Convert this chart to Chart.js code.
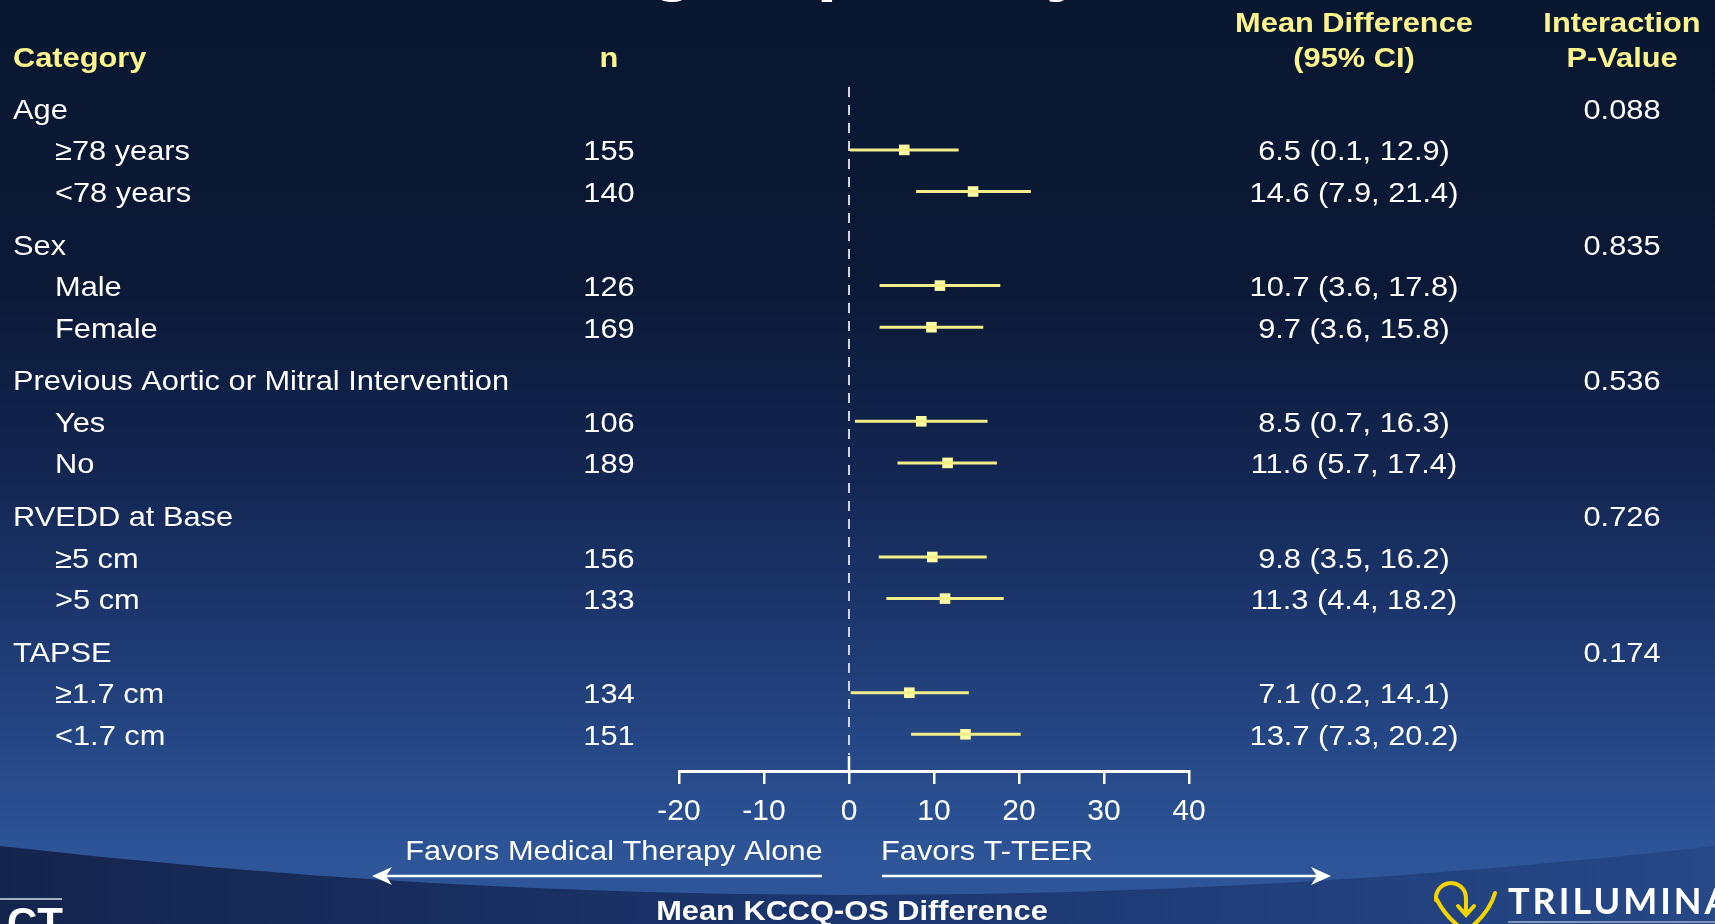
<!DOCTYPE html>
<html>
<head>
<meta charset="utf-8">
<script src="https://cdn.jsdelivr.net/npm/chart.js@4.4.1/dist/chart.umd.min.js"></script>
<style>
  html, body { margin: 0; padding: 0; background: #0a1731; overflow: hidden; }
  canvas { display: block; }
</style>
</head>
<body>
<canvas id="forest" width="1715" height="924"></canvas>
<script>
// ---- data ----
const groupNames = ['Age', 'Sex', 'Previous Aortic or Mitral Intervention', 'RVEDD at Base', 'TAPSE'];
const groupPValues = ['0.088', '0.835', '0.536', '0.726', '0.174'];
const subgroupLabels = ['≥78 years', '<78 years', 'Male', 'Female', 'Yes', 'No', '≥5 cm', '>5 cm', '≥1.7 cm', '<1.7 cm'];
const subgroupGroup = [0, 0, 1, 1, 2, 2, 3, 3, 4, 4];
const subgroupN = [155, 140, 126, 169, 106, 189, 156, 133, 134, 151];
const meanDiff = [6.5, 14.6, 10.7, 9.7, 8.5, 11.6, 9.8, 11.3, 7.1, 13.7];
const ciLower = [0.1, 7.9, 3.6, 3.6, 0.7, 5.7, 3.5, 4.4, 0.2, 7.3];
const ciUpper = [12.9, 21.4, 17.8, 15.8, 16.3, 17.4, 16.2, 18.2, 14.1, 20.2];
const xTicks = [-20, -10, 0, 10, 20, 30, 40];

// ---- row layout (in row units on the y scale) ----
const GROUP_STEP = 3.262;
const headerPos = g => g * GROUP_STEP;
const rowPos = i => {
  const g = subgroupGroup[i];
  const j = subgroupGroup.slice(0, i).filter(v => v === g).length;
  return headerPos(g) + 1 + j;
};

const FONT = '"Liberation Sans", Arial, Helvetica, sans-serif';
const SX = 1.08;              // slight horizontal widening of the slide text
const WHITE = '#ffffff';
const YELLOW = '#fbf48c';
const CI_COLOR = '#f2ef8a';
const MARK_COLOR = '#fbf9a2';

function text(ctx, s, x, y, align, font, color) {
  ctx.save();
  ctx.font = font;
  ctx.fillStyle = color;
  ctx.textAlign = align;
  ctx.textBaseline = 'alphabetic';
  ctx.translate(x, y);
  ctx.scale(SX, 1);
  ctx.fillText(s, 0, 0);
  ctx.restore();
}

function arrow(ctx, x0, x1, y) {
  // shaft from x0 to tip x1
  const dir = Math.sign(x1 - x0);
  ctx.save();
  ctx.strokeStyle = WHITE;
  ctx.fillStyle = WHITE;
  ctx.lineWidth = 2.5;
  ctx.beginPath();
  ctx.moveTo(x0, y);
  ctx.lineTo(x1 - dir * 10, y);
  ctx.stroke();
  ctx.beginPath();
  ctx.moveTo(x1, y);
  ctx.lineTo(x1 - dir * 20, y - 9);
  ctx.lineTo(x1 - dir * 14, y);
  ctx.lineTo(x1 - dir * 20, y + 9);
  ctx.closePath();
  ctx.fill();
  ctx.restore();
}

const slideDecor = {
  id: 'slideDecor',
  beforeDraw(chart) {
    const ctx = chart.ctx;
    const W = chart.width, H = chart.height;
    ctx.save();
    const bg = ctx.createLinearGradient(0, 0, 0, H);
    bg.addColorStop(0.00, '#0a1731');
    bg.addColorStop(0.30, '#0b1936');
    bg.addColorStop(0.50, '#132550');
    bg.addColorStop(0.68, '#1d3870');
    bg.addColorStop(0.83, '#274a8a');
    bg.addColorStop(0.93, '#2d5598');
    bg.addColorStop(1.00, '#2d5598');
    ctx.fillStyle = bg;
    ctx.fillRect(0, 0, W, H);
    // darker curved footer band
    const band = ctx.createLinearGradient(0, 0, W, 0);
    band.addColorStop(0, '#14254d');
    band.addColorStop(0.5, '#1c3670');
    band.addColorStop(1, '#264887');
    ctx.fillStyle = band;
    ctx.beginPath();
    ctx.moveTo(0, 846);
    ctx.quadraticCurveTo(857, 944, W, 846);
    ctx.lineTo(W, H);
    ctx.lineTo(0, H);
    ctx.closePath();
    ctx.fill();
    ctx.restore();
  },
  beforeDatasetsDraw(chart) {
    const ctx = chart.ctx;
    const x0 = chart.scales.x.getPixelForValue(0);
    const { top, bottom } = chart.chartArea;
    ctx.save();
    ctx.strokeStyle = '#cfd4de';
    ctx.lineWidth = 2;
    ctx.setLineDash([10, 8]);
    ctx.beginPath();
    ctx.moveTo(x0, top);
    ctx.lineTo(x0, bottom - 16);
    ctx.stroke();
    ctx.setLineDash([]);
    ctx.strokeStyle = WHITE;
    ctx.lineWidth = 2.5;
    ctx.beginPath();
    ctx.moveTo(x0, bottom - 15);
    ctx.lineTo(x0, bottom);
    ctx.stroke();
    ctx.restore();
  },
  afterDraw(chart) {
    const ctx = chart.ctx;
    const ys = chart.scales.y;
    const reg = '28.5px ' + FONT;
    const bold = 'bold 28.5px ' + FONT;
    const COL_LABEL = 13, COL_SUB = 55, COL_N = 609, COL_CI = 1354, COL_P = 1622;
    const BASE = 10.5;

    // partially visible slide title
    ctx.save();
    ctx.font = 'bold 75px ' + FONT;
    ctx.fillStyle = WHITE;
    ctx.textAlign = 'center';
    ctx.fillText('Subgroup Analysis', 850, -13);
    ctx.restore();

    // column headers
    text(ctx, 'Mean Difference', COL_CI, 32, 'center', bold, YELLOW);
    text(ctx, 'Interaction', COL_P, 32, 'center', bold, YELLOW);
    text(ctx, 'Category', COL_LABEL, 67, 'left', bold, YELLOW);
    text(ctx, 'n', COL_N, 67, 'center', bold, YELLOW);
    text(ctx, '(95% CI)', COL_CI, 67, 'center', bold, YELLOW);
    text(ctx, 'P-Value', COL_P, 67, 'center', bold, YELLOW);

    // group header rows
    groupNames.forEach((name, g) => {
      const y = ys.getPixelForValue(headerPos(g)) + BASE;
      text(ctx, name, COL_LABEL, y, 'left', reg, WHITE);
      text(ctx, groupPValues[g], COL_P, y, 'center', reg, WHITE);
    });

    // subgroup rows
    subgroupLabels.forEach((lab, i) => {
      const y = ys.getPixelForValue(rowPos(i)) + BASE;
      text(ctx, lab, COL_SUB, y, 'left', reg, WHITE);
      text(ctx, String(subgroupN[i]), COL_N, y, 'center', reg, WHITE);
      const ci = meanDiff[i].toFixed(1) + ' (' + ciLower[i].toFixed(1) + ', ' + ciUpper[i].toFixed(1) + ')';
      text(ctx, ci, COL_CI, y, 'center', reg, WHITE);
    });

    // direction labels and arrows
    text(ctx, 'Favors Medical Therapy Alone', 614, 860, 'center', reg, WHITE);
    text(ctx, 'Favors T-TEER', 987, 860, 'center', reg, WHITE);
    arrow(ctx, 822, 372, 876);
    arrow(ctx, 882, 1331, 876);
    text(ctx, 'Mean KCCQ-OS Difference', 852, 920, 'center', bold, WHITE);

    // footer logos
    ctx.save();
    ctx.strokeStyle = '#a3aec4';
    ctx.lineWidth = 2;
    ctx.beginPath();
    ctx.moveTo(0, 899);
    ctx.lineTo(62, 899);
    ctx.stroke();
    ctx.font = 'bold 42px ' + FONT;
    ctx.fillStyle = WHITE;
    ctx.textAlign = 'right';
    ctx.fillText('CT', 63, 937);

    ctx.strokeStyle = '#f4d400';
    ctx.lineWidth = 4;
    ctx.lineCap = 'round';
    ctx.beginPath();
    ctx.moveTo(1436, 898);
    ctx.quadraticCurveTo(1446, 918, 1464, 930);
    ctx.stroke();
    ctx.beginPath();
    ctx.moveTo(1468, 930);
    ctx.quadraticCurveTo(1490, 912, 1495, 893);
    ctx.stroke();
    ctx.beginPath();
    ctx.arc(1451, 898, 15, Math.PI * 0.95, Math.PI * 2.05);
    ctx.stroke();
    ctx.beginPath();
    ctx.moveTo(1466, 900);
    ctx.lineTo(1466, 914);
    ctx.stroke();
    ctx.beginPath();
    ctx.moveTo(1458, 906);
    ctx.lineTo(1466, 915);
    ctx.lineTo(1474, 906);
    ctx.stroke();

    ctx.font = 'bold 36px Lato, "Open Sans", sans-serif';
    ctx.letterSpacing = '3px';
    ctx.fillStyle = WHITE;
    ctx.textAlign = 'left';
    ctx.fillText('TRILUMINATE', 1508, 914);
    ctx.strokeStyle = '#7f93bb';
    ctx.lineWidth = 2;
    ctx.lineCap = 'butt';
    ctx.beginPath();
    ctx.moveTo(1508, 922);
    ctx.lineTo(1715, 922);
    ctx.stroke();
    ctx.restore();
  }
};

// ---- datasets ----
const ciDatasets = meanDiff.map((m, i) => ({
  label: subgroupLabels[i] + ' CI',
  data: [{ x: ciLower[i], y: rowPos(i) }, { x: ciUpper[i], y: rowPos(i) }],
  showLine: true,
  borderColor: CI_COLOR,
  borderWidth: 3,
  pointRadius: 0,
  pointHoverRadius: 0
}));

const markerDataset = {
  label: 'Mean difference',
  data: meanDiff.map((m, i) => ({ x: m, y: rowPos(i) })),
  pointStyle: 'rect',
  pointRadius: 7.5,
  backgroundColor: MARK_COLOR,
  borderColor: MARK_COLOR,
  borderWidth: 0,
  showLine: false
};

new Chart(document.getElementById('forest'), {
  type: 'scatter',
  data: { datasets: [...ciDatasets, markerDataset] },
  plugins: [slideDecor],
  options: {
    responsive: false,
    animation: false,
    devicePixelRatio: 1,
    layout: { padding: { left: 679, right: 526, top: 87, bottom: 0 } },
    plugins: { legend: { display: false }, tooltip: { enabled: false } },
    scales: {
      x: {
        type: 'linear',
        position: 'bottom',
        min: -20,
        max: 40,
        afterBuildTicks: s => { s.ticks = xTicks.map(v => ({ value: v })); },
        afterFit: s => { s.height = 153; },
        ticks: {
          color: WHITE,
          padding: 10,
          font: { family: FONT, size: 30 }
        },
        grid: {
          drawOnChartArea: false,
          drawTicks: true,
          tickLength: 13,
          color: WHITE,
          lineWidth: 2.5
        },
        border: { display: true, color: WHITE, width: 3 }
      },
      y: {
        type: 'linear',
        display: false,
        reverse: true,
        min: -0.512,
        max: 15.93
      }
    }
  }
});
</script>
</body>
</html>
